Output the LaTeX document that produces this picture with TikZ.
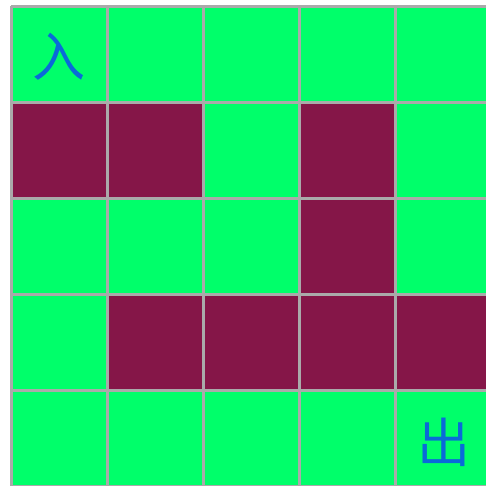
\documentclass[tikz,border=0pt]{standalone}
\usepackage{fontspec}
\newfontfamily\cjk{Noto Sans CJK SC}
\definecolor{pathgreen}{HTML}{00FF6A}
\definecolor{wallred}{HTML}{851648}
\definecolor{gridgray}{HTML}{AAAAAA}
\definecolor{markblue}{HTML}{0A6AD9}
\tikzset{
  cellfree/.style={fill=pathgreen},
  cellwall/.style={fill=wallred},
  gridline/.style={draw=gridgray, line width=3pt},
  marktext/.style={text=markblue, font=\cjk\fontsize{53}{53}\selectfont, inner sep=0pt}
}
\begin{document}
\begin{tikzpicture}[x=1pt,y=-1pt]
\useasboundingbox (0,0) rectangle (486,485);
\fill[white] (0,0) rectangle (486,485);
\begin{scope}
\clip (0,0) rectangle (486,485);
% cells: row r, col c; origin at (11,6), pitch 96
\foreach \r/\c/\t in {0/0/cellfree,0/1/cellfree,0/2/cellfree,0/3/cellfree,0/4/cellfree,
                      1/0/cellwall,1/1/cellwall,1/2/cellfree,1/3/cellwall,1/4/cellfree,
                      2/0/cellfree,2/1/cellfree,2/2/cellfree,2/3/cellwall,2/4/cellfree,
                      3/0/cellfree,3/1/cellwall,3/2/cellwall,3/3/cellwall,3/4/cellwall,
                      4/0/cellfree,4/1/cellfree,4/2/cellfree,4/3/cellfree,4/4/cellfree}
  \path[\t] ({11+96*\c},{6+96*\r}) rectangle ++(96,96);
\foreach \i in {0,...,5} {
  \path[gridline] ({11+96*\i},6) -- ({11+96*\i},{6+96*5});
  \path[gridline] (11,{6+96*\i}) -- ({11+96*5},{6+96*\i});
}
\end{scope}
\node[marktext] (entry) at (59,57) {入};
\node[marktext] (exit) at (444,442) {出};
\end{tikzpicture}
\end{document}
